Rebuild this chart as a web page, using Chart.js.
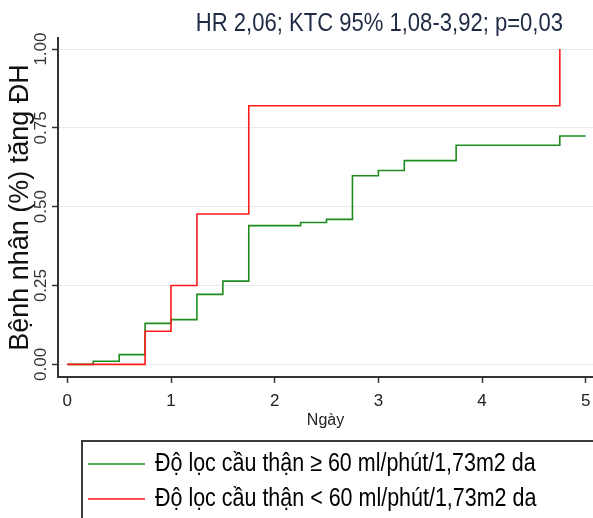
<!DOCTYPE html>
<html>
<head>
<meta charset="utf-8">
<script src="https://cdn.jsdelivr.net/npm/chart.js@4"></script>
<style>
  body { margin: 0; background: #fff; }
  #wrap { width: 593px; height: 518px; position: relative; }
</style>
</head>
<body>
<div id="wrap"><canvas id="kmChart"></canvas></div>
<script>
// Kaplan-Meier style cumulative curves
const chartTitle = 'HR 2,06; KTC 95% 1,08-3,92; p=0,03';
const yAxisTitle = 'Bệnh nhân (%) tăng ĐH';
const xAxisTitle = 'Ngày';
const seriesLabels = [
    'Độ lọc cầu thận ≥ 60 ml/phút/1,73m2 da',
    'Độ lọc cầu thận < 60 ml/phút/1,73m2 da'
];

const greenDays = [0, 0.25, 0.5, 0.75, 1, 1.25, 1.5, 1.75, 2.25, 2.5, 2.75, 3, 3.25, 3.75, 4.75, 5];
const greenValues = [0, 0.01, 0.031, 0.13, 0.142, 0.222, 0.264, 0.44, 0.45, 0.46, 0.598, 0.615, 0.646, 0.695, 0.724, 0.724];

const redDays = [0, 0.75, 1, 1.25, 1.75, 4.75];
const redValues = [0, 0.105, 0.25, 0.477, 0.82, 1.0];

const xTicks = [0, 1, 2, 3, 4, 5];
const yTicks = [0, 0.25, 0.5, 0.75, 1];

const FONT = '"Liberation Sans", Arial, sans-serif';

function toPoints(days, values) {
    return days.map((d, i) => ({ x: d, y: values[i] }));
}

// text squeezed horizontally like the original picture
function squeezedText(ctx, text, x, y, align, squeeze) {
    ctx.save();
    ctx.translate(x, y);
    ctx.scale(squeeze, 1);
    ctx.textAlign = align;
    ctx.textBaseline = 'middle';
    ctx.fillText(text, 0, 0);
    ctx.restore();
}

const extrasPlugin = {
    id: 'extras',
    afterDraw(chart) {
        const ctx = chart.ctx;
        ctx.save();
        ctx.fillStyle = '#1f2b45';
        ctx.font = '25.5px ' + FONT;
        squeezedText(ctx, chartTitle, 563, 24, 'right', 0.865);

        // legend box
        ctx.strokeStyle = '#3a3a3a';
        ctx.lineWidth = 2;
        ctx.strokeRect(82, 441, 560, 100);
        chart.data.datasets.forEach((ds, i) => {
            const y = 464 + i * 35;
            ctx.strokeStyle = ds.borderColor;
            ctx.lineWidth = 1.5;
            ctx.beginPath();
            ctx.moveTo(88, y);
            ctx.lineTo(145, y);
            ctx.stroke();
            ctx.fillStyle = '#000';
            ctx.font = '25.5px ' + FONT;
            squeezedText(ctx, ds.label, 155, y, 'left', 0.842);
        });
        ctx.restore();
    }
};

const ctx = document.getElementById('kmChart').getContext('2d');
new Chart(ctx, {
    type: 'line',
    data: {
        datasets: [
            {
                label: seriesLabels[0],
                data: toPoints(greenDays, greenValues),
                borderColor: '#1e8c1e',
                borderWidth: 1.6,
                stepped: 'before',
                pointRadius: 0,
                fill: false,
                order: 1
            },
            {
                label: seriesLabels[1],
                data: toPoints(redDays, redValues),
                borderColor: '#ff1a1a',
                borderWidth: 1.6,
                stepped: 'before',
                pointRadius: 0,
                fill: false,
                order: 0
            }
        ]
    },
    options: {
        responsive: true,
        maintainAspectRatio: false,
        animation: false,
        layout: { padding: { top: 38, bottom: 88, left: 0, right: 0 } },
        plugins: {
            legend: { display: false },
            tooltip: { enabled: false }
        },
        scales: {
            x: {
                type: 'linear',
                min: -0.09,
                max: 5.07,
                afterBuildTicks: scale => { scale.ticks = xTicks.map(v => ({ value: v })); },
                afterFit: scale => {
                    scale.height = 53;
                    scale.paddingLeft = 0;
                    scale.paddingRight = 0;
                },
                grid: { drawOnChartArea: false, drawTicks: true, tickLength: 6, tickColor: '#333', tickWidth: 1.5 },
                border: { color: '#333', width: 2 },
                ticks: {
                    padding: 8,
                    color: '#222',
                    font: { family: FONT, size: 17 },
                    callback: v => String(v)
                },
                title: {
                    display: true,
                    text: xAxisTitle,
                    color: '#222',
                    padding: 0,
                    font: { family: FONT, size: 16 }
                }
            },
            y: {
                type: 'linear',
                min: -0.04,
                max: 1.035,
                afterBuildTicks: scale => { scale.ticks = yTicks.map(v => ({ value: v })); },
                afterFit: scale => {
                    scale.width = 58;
                    scale.paddingTop = 0;
                    scale.paddingBottom = 0;
                },
                grid: { color: '#e4ecef', lineWidth: 1, tickLength: 6, tickColor: '#333', tickWidth: 1.5 },
                border: { color: '#333', width: 2 },
                ticks: {
                    minRotation: 90,
                    maxRotation: 90,
                    crossAlign: 'center',
                    padding: -5.5,
                    color: '#333',
                    font: { family: FONT, size: 17 },
                    callback: v => v.toFixed(2)
                },
                title: {
                    display: true,
                    text: yAxisTitle,
                    color: '#111',
                    padding: { top: 4, bottom: 0 },
                    font: { family: FONT, size: 27 }
                }
            }
        }
    },
    plugins: [extrasPlugin]
});
</script>
</body>
</html>
